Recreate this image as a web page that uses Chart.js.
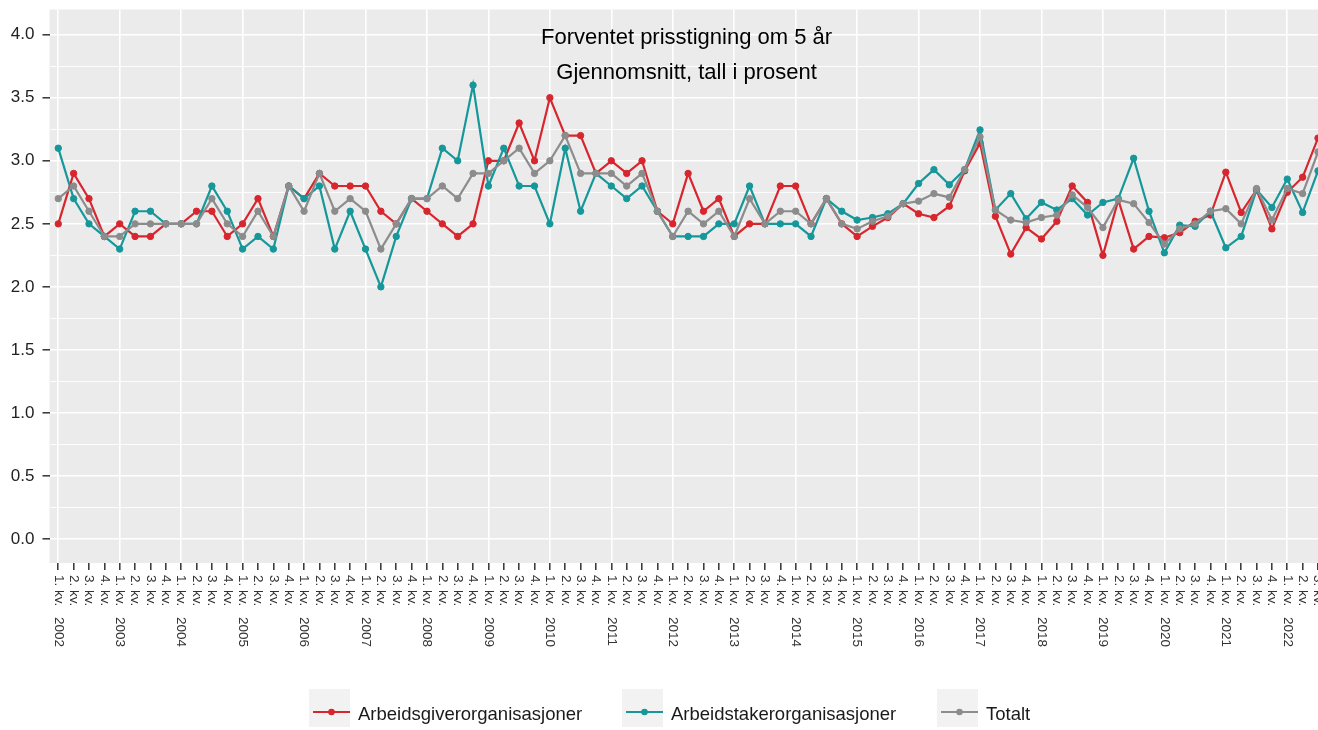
<!DOCTYPE html>
<html><head><meta charset="utf-8">
<script src="https://cdn.jsdelivr.net/npm/chart.js@4/dist/chart.umd.min.js"></script>
<style>html,body{margin:0;padding:0;background:#fff;overflow:hidden}</style>
</head><body>
<canvas id="c" width="1318" height="730" style="display:block;width:1318px;height:730px"></canvas>
<script>
const tickLabels = [
 "1. kv. 2002","2. kv.","3. kv.","4. kv.",
 "1. kv. 2003","2. kv.","3. kv.","4. kv.",
 "1. kv. 2004","2. kv.","3. kv.","4. kv.",
 "1. kv. 2005","2. kv.","3. kv.","4. kv.",
 "1. kv. 2006","2. kv.","3. kv.","4. kv.",
 "1. kv. 2007","2. kv.","3. kv.","4. kv.",
 "1. kv. 2008","2. kv.","3. kv.","4. kv.",
 "1. kv. 2009","2. kv.","3. kv.","4. kv.",
 "1. kv. 2010","2. kv.","3. kv.","4. kv.",
 "1. kv. 2011","2. kv.","3. kv.","4. kv.",
 "1. kv. 2012","2. kv.","3. kv.","4. kv.",
 "1. kv. 2013","2. kv.","3. kv.","4. kv.",
 "1. kv. 2014","2. kv.","3. kv.","4. kv.",
 "1. kv. 2015","2. kv.","3. kv.","4. kv.",
 "1. kv. 2016","2. kv.","3. kv.","4. kv.",
 "1. kv. 2017","2. kv.","3. kv.","4. kv.",
 "1. kv. 2018","2. kv.","3. kv.","4. kv.",
 "1. kv. 2019","2. kv.","3. kv.","4. kv.",
 "1. kv. 2020","2. kv.","3. kv.","4. kv.",
 "1. kv. 2021","2. kv.","3. kv.","4. kv.",
 "1. kv. 2022","2. kv.","3. kv."
];
const arbeidsgiver = [
 2.5,2.9,2.7,2.4, 2.5,2.4,2.4,2.5, 2.5,2.6,2.6,2.4, 2.5,2.7,2.4,2.8,
 2.7,2.9,2.8,2.8, 2.8,2.6,2.5,2.7, 2.6,2.5,2.4,2.5, 3.0,3.0,3.3,3.0,
 3.5,3.2,3.2,2.9, 3.0,2.9,3.0,2.6, 2.5,2.9,2.6,2.7, 2.4,2.5,2.5,2.8,
 2.8,2.5,2.7,2.5, 2.4,2.48,2.55,2.66, 2.58,2.55,2.64,2.92, 3.14,2.56,2.26,2.47,
 2.38,2.52,2.80,2.67, 2.25,2.69,2.30,2.40, 2.39,2.43,2.52,2.57, 2.91,2.59,2.77,2.46,
 2.75,2.87,3.18
];
const arbeidstaker = [
 3.1,2.7,2.5,2.4, 2.3,2.6,2.6,2.5, 2.5,2.5,2.8,2.6, 2.3,2.4,2.3,2.8,
 2.7,2.8,2.3,2.6, 2.3,2.0,2.4,2.7, 2.7,3.1,3.0,3.6, 2.8,3.1,2.8,2.8,
 2.5,3.1,2.6,2.9, 2.8,2.7,2.8,2.6, 2.4,2.4,2.4,2.5, 2.5,2.8,2.5,2.5,
 2.5,2.4,2.7,2.6, 2.53,2.55,2.58,2.66, 2.82,2.93,2.81,2.93, 3.245,2.61,2.74,2.54,
 2.67,2.61,2.70,2.57, 2.67,2.70,3.02,2.60, 2.27,2.49,2.48,2.60, 2.31,2.40,2.77,2.63,
 2.855,2.59,2.92
];
const totalt = [
 2.7,2.8,2.6,2.4, 2.4,2.5,2.5,2.5, 2.5,2.5,2.7,2.5, 2.4,2.6,2.4,2.8,
 2.6,2.9,2.6,2.7, 2.6,2.3,2.5,2.7, 2.7,2.8,2.7,2.9, 2.9,3.0,3.1,2.9,
 3.0,3.2,2.9,2.9, 2.9,2.8,2.9,2.6, 2.4,2.6,2.5,2.6, 2.4,2.7,2.5,2.6,
 2.6,2.5,2.7,2.5, 2.46,2.52,2.56,2.66, 2.68,2.74,2.71,2.93, 3.19,2.61,2.53,2.51,
 2.55,2.57,2.73,2.63, 2.47,2.69,2.66,2.51, 2.34,2.46,2.50,2.60, 2.62,2.50,2.78,2.53,
 2.78,2.74,3.07
];
const seriesNames = ["Arbeidsgiverorganisasjoner","Arbeidstakerorganisasjoner","Totalt"];
const seriesColors = ["#D7262E","#16979A","#8C8C8C"];
const yTickValues = [0,0.25,0.5,0.75,1,1.25,1.5,1.75,2,2.25,2.5,2.75,3,3.25,3.5,3.75,4];
const titleLines = ["Forventet prisstigning om 5 år","Gjennomsnitt, tall i prosent"];

const FONT = "'Liberation Sans', Arial, Helvetica, sans-serif";
const toPts = arr => arr.map((v,i)=>({x:i,y:v}));

const mk = (name, data, color, order) => ({
  label: name, data: toPts(data), borderColor: color, backgroundColor: color,
  pointBackgroundColor: color, pointBorderColor: color, borderWidth: 2.2,
  pointRadius: 3.2, pointBorderWidth: 1, pointHoverRadius: 3.2, tension: 0, order: order
});

const zeroPad = s => { s.paddingTop = 0; s.paddingBottom = 0; s.paddingLeft = 0; s.paddingRight = 0; };
const isMajor = v => Math.abs(v*2 - Math.round(v*2)) < 1e-9;

const decor = {
  id: 'decor',
  beforeDraw(chart){
    const {ctx, chartArea:a} = chart;
    ctx.save();
    ctx.fillStyle = '#EBEBEB';
    ctx.fillRect(a.left, a.top, a.right-a.left, a.bottom-a.top);
    ctx.restore();
  },
  afterDraw(chart){
    const {ctx, chartArea:a} = chart;
    const xs = chart.scales.x, ys = chart.scales.y;
    ctx.save();
    ctx.fillStyle = '#333333';
    ctx.font = '13.5px ' + FONT;
    ctx.textAlign = 'left';
    ctx.textBaseline = 'middle';
    tickLabels.forEach((lab,i)=>{
      const x = xs.getPixelForValue(i);
      const m = lab.match(/^(\d\. kv\.)\s*(\d{4})?$/);
      ctx.save();
      ctx.translate(x, a.bottom + 12);
      ctx.rotate(Math.PI/2);
      ctx.fillText(m ? m[1] : lab, 0, 0);
      if (m && m[2]) ctx.fillText(m[2], 42, 0);
      ctx.restore();
    });
    ctx.fillStyle = '#000000';
    ctx.font = '22px ' + FONT;
    ctx.textAlign = 'center';
    ctx.textBaseline = 'alphabetic';
    const tx = xs.getPixelForValue(40.9);
    ctx.fillText(titleLines[0], tx, ys.getPixelForValue(3.93));
    ctx.fillText(titleLines[1], tx, ys.getPixelForValue(3.652));
    const keyX = [309, 622, 937];
    ctx.font = '18.5px ' + FONT;
    ctx.textAlign = 'left';
    seriesNames.forEach((n,k)=>{
      const x0 = keyX[k], y0 = 689;
      ctx.fillStyle = '#F2F2F2';
      ctx.fillRect(x0, y0, 41, 38);
      ctx.strokeStyle = seriesColors[k];
      ctx.lineWidth = 2;
      ctx.beginPath(); ctx.moveTo(x0+4, y0+23); ctx.lineTo(x0+41, y0+23); ctx.stroke();
      ctx.fillStyle = seriesColors[k];
      ctx.beginPath(); ctx.arc(x0+22.5, y0+23, 3.3, 0, Math.PI*2); ctx.fill();
      ctx.fillStyle = '#1A1A1A';
      ctx.fillText(n, x0+49, y0+31);
    });
    ctx.restore();
  }
};

new Chart(document.getElementById('c'), {
  type: 'line',
  data: { datasets: [
    mk(seriesNames[0], arbeidsgiver, seriesColors[0], 3),
    mk(seriesNames[1], arbeidstaker, seriesColors[1], 2),
    mk(seriesNames[2], totalt, seriesColors[2], 1)
  ]},
  options: {
    responsive: false, animation: false, devicePixelRatio: 1,
    layout: { autoPadding: false, padding: { top: 9.5, left: 0, right: 0, bottom: 0 } },
    plugins: { legend: { display: false }, tooltip: { enabled: false }, title: { display: false } },
    scales: {
      x: {
        type: 'linear', min: -0.57, max: 82,
        afterBuildTicks: s => { s.ticks = tickLabels.map((_,i)=>({value:i})); },
        afterFit: s => { s.height = 167; zeroPad(s); },
        border: { display: false },
        grid: {
          color: c => (c.tick && c.tick.value % 4 === 0) ? '#FFFFFF' : 'rgba(0,0,0,0)',
          lineWidth: 1.6, drawTicks: true, tickLength: 7, tickWidth: 1.5, tickColor: '#333333'
        },
        ticks: { display: false }
      },
      y: {
        type: 'linear', min: -0.19, max: 4.2,
        afterBuildTicks: s => { s.ticks = yTickValues.map(v=>({value:v})); },
        afterFit: s => { s.width = 49.5; zeroPad(s); },
        border: { display: false },
        grid: {
          color: '#FFFFFF',
          lineWidth: c => (c.tick && isMajor(c.tick.value)) ? 1.6 : 0.9,
          drawTicks: true, tickLength: 7, tickWidth: 1.5,
          tickColor: c => (c.tick && isMajor(c.tick.value)) ? '#333333' : 'rgba(0,0,0,0)'
        },
        ticks: {
          padding: 8, color: '#222222', font: { family: FONT, size: 17 },
          callback: v => isMajor(v) ? v.toFixed(1) : ''
        }
      }
    }
  },
  plugins: [decor]
});
</script>
</body></html>
